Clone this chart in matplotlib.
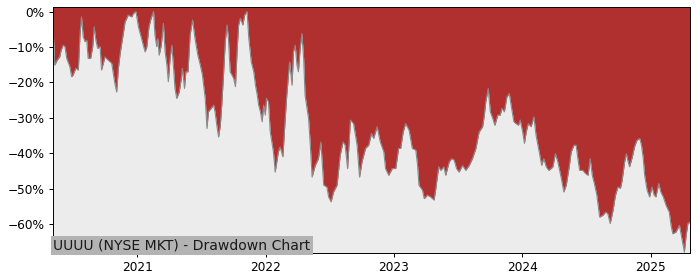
import matplotlib
matplotlib.use("Agg")
import matplotlib.pyplot as plt
import matplotlib.dates as mdates
from matplotlib.ticker import PercentFormatter
import pandas as pd

title_text = "UUUU (NYSE MKT) - Drawdown Chart"

dates = [
    "2020-05-07", "2020-05-11", "2020-05-18", "2020-05-25", "2020-05-29", "2020-06-04", "2020-06-09", "2020-06-14",
    "2020-06-23", "2020-06-28", "2020-07-02", "2020-07-10", "2020-07-17", "2020-07-22", "2020-07-26", "2020-07-31",
    "2020-08-05", "2020-08-10", "2020-08-14", "2020-08-21", "2020-08-27", "2020-08-31", "2020-09-05", "2020-09-10",
    "2020-09-17", "2020-09-21", "2020-10-01", "2020-10-10", "2020-10-20", "2020-10-29", "2020-11-03", "2020-11-08",
    "2020-11-13", "2020-11-22", "2020-11-27", "2020-12-06", "2020-12-16", "2020-12-21", "2020-12-28", "2021-01-04",
    "2021-01-14", "2021-01-23", "2021-01-28", "2021-02-03", "2021-02-09", "2021-02-16", "2021-02-20", "2021-02-25",
    "2021-02-28", "2021-03-04", "2021-03-10", "2021-03-16", "2021-03-21", "2021-03-26", "2021-03-30", "2021-04-04",
    "2021-04-09", "2021-04-14", "2021-04-18", "2021-04-23", "2021-04-30", "2021-05-06", "2021-05-09", "2021-05-15",
    "2021-05-19", "2021-05-25", "2021-05-31", "2021-06-07", "2021-06-14", "2021-06-22", "2021-06-29", "2021-07-05",
    "2021-07-13", "2021-07-18", "2021-07-22", "2021-07-30", "2021-08-06", "2021-08-10", "2021-08-15", "2021-08-20",
    "2021-08-25", "2021-08-29", "2021-09-03", "2021-09-08", "2021-09-13", "2021-09-17", "2021-09-22", "2021-09-27",
    "2021-10-02", "2021-10-07", "2021-10-12", "2021-10-16", "2021-10-21", "2021-10-28", "2021-11-02", "2021-11-09",
    "2021-11-14", "2021-11-21", "2021-11-28", "2021-12-03", "2021-12-08", "2021-12-12", "2021-12-17", "2021-12-22",
    "2021-12-26", "2021-12-31", "2022-01-03", "2022-01-09", "2022-01-14", "2022-01-23", "2022-01-28", "2022-02-06",
    "2022-02-11", "2022-02-19", "2022-02-25", "2022-03-02", "2022-03-10", "2022-03-17", "2022-03-21", "2022-03-26",
    "2022-03-31", "2022-04-04", "2022-04-09", "2022-04-14", "2022-04-19", "2022-04-23", "2022-05-03", "2022-05-08",
    "2022-05-13", "2022-05-22", "2022-05-31", "2022-06-07", "2022-06-15", "2022-06-24", "2022-06-29", "2022-07-06",
    "2022-07-13", "2022-07-23", "2022-08-01", "2022-08-09", "2022-08-15", "2022-08-22", "2022-08-30", "2022-09-08",
    "2022-09-18", "2022-09-25", "2022-10-02", "2022-10-12", "2022-10-21", "2022-10-29", "2022-11-04", "2022-11-14",
    "2022-11-23", "2022-12-03", "2022-12-08", "2022-12-17", "2022-12-27", "2023-01-06", "2023-01-14", "2023-01-20",
    "2023-01-27", "2023-02-03", "2023-02-13", "2023-02-22", "2023-03-04", "2023-03-09", "2023-03-13", "2023-03-23",
    "2023-03-28", "2023-04-06", "2023-04-15", "2023-04-25", "2023-04-30", "2023-05-08", "2023-05-14", "2023-05-23",
    "2023-05-28", "2023-06-07", "2023-06-14", "2023-06-21", "2023-06-28", "2023-07-05", "2023-07-15", "2023-07-24",
    "2023-08-03", "2023-08-12", "2023-08-22", "2023-08-31", "2023-09-10", "2023-09-15", "2023-09-19", "2023-09-26",
    "2023-10-02", "2023-10-09", "2023-10-15", "2023-10-23", "2023-10-30", "2023-11-04", "2023-11-11", "2023-11-18",
    "2023-11-25", "2023-11-30", "2023-12-08", "2023-12-14", "2023-12-21", "2023-12-26", "2024-01-02", "2024-01-07",
    "2024-01-12", "2024-01-18", "2024-01-26", "2024-02-03", "2024-02-09", "2024-02-19", "2024-02-25", "2024-03-02",
    "2024-03-09", "2024-03-16", "2024-03-23", "2024-03-28", "2024-04-04", "2024-04-11", "2024-04-21", "2024-04-28",
    "2024-05-05", "2024-05-14", "2024-05-19", "2024-05-27", "2024-06-02", "2024-06-07", "2024-06-12", "2024-06-21",
    "2024-06-29", "2024-07-06", "2024-07-12", "2024-07-18", "2024-07-25", "2024-07-31", "2024-08-08", "2024-08-17",
    "2024-08-25", "2024-08-31", "2024-09-07", "2024-09-15", "2024-09-22", "2024-09-29", "2024-10-06", "2024-10-11",
    "2024-10-18", "2024-10-23", "2024-10-28", "2024-11-01", "2024-11-09", "2024-11-15", "2024-11-22", "2024-11-30",
    "2024-12-05", "2024-12-10", "2024-12-14", "2024-12-21", "2024-12-28", "2025-01-04", "2025-01-10", "2025-01-15",
    "2025-01-23", "2025-01-29", "2025-02-05", "2025-02-13", "2025-02-22", "2025-02-27", "2025-03-04", "2025-03-13",
    "2025-03-23", "2025-03-30", "2025-04-06", "2025-04-11", "2025-04-16", "2025-04-22",
]

drawdown_pct = [
    -6.2, -15.1, -13.7, -12.8, -10.9, -9.5, -9.9, -13.2,
    -15.6, -18.4, -17.9, -16.0, -16.5, -6.2, -1.5, -7.1,
    -8.5, -8.1, -13.2, -13.2, -9.9, -4.3, -8.1, -10.4,
    -9.9, -16.5, -12.8, -13.7, -14.6, -20.3, -22.7, -16.0,
    -11.8, -6.2, -2.9, -1.0, -1.5, -0.5, 0.0, -4.3,
    -8.1, -11.4, -9.9, -4.3, -1.9, 0.0, -6.6, -9.9,
    -7.6, -12.3, -9.5, -3.3, -11.4, -15.1, -19.8, -13.2,
    -9.5, -16.0, -21.7, -24.5, -22.7, -18.9, -16.0, -21.7,
    -17.0, -17.0, -6.6, -2.4, -7.6, -12.3, -15.1, -17.9,
    -24.5, -33.0, -28.3, -27.3, -26.4, -28.3, -32.1, -35.4,
    -32.1, -26.4, -17.9, -8.5, -3.8, -7.6, -17.0, -17.9,
    -18.9, -21.2, -10.4, -3.8, -1.9, -3.8, -1.0, 0.0,
    -7.6, -14.2, -17.0, -20.8, -23.6, -26.4, -28.3, -31.1,
    -26.4, -29.2, -24.5, -25.5, -34.0, -39.6, -45.3, -39.6,
    -38.2, -41.0, -31.1, -23.6, -14.2, -20.8, -11.4, -9.5,
    -15.1, -17.0, -10.4, -6.2, -13.2, -23.6, -30.2, -37.7,
    -46.7, -43.4, -41.5, -36.8, -49.0, -49.5, -52.3, -53.7,
    -50.9, -49.0, -40.5, -36.8, -37.7, -44.3, -30.6, -31.6,
    -37.7, -46.7, -42.4, -38.6, -37.7, -34.4, -35.8, -32.5,
    -36.8, -39.6, -44.3, -46.2, -44.3, -44.3, -38.6, -38.6,
    -34.0, -31.6, -33.5, -38.6, -39.1, -43.4, -49.0, -50.4,
    -52.8, -51.8, -52.3, -53.2, -49.9, -43.8, -44.8, -43.8,
    -46.2, -42.4, -41.5, -41.9, -44.3, -45.3, -43.4, -44.8,
    -43.4, -41.5, -38.6, -34.0, -32.5, -29.2, -25.5, -21.7,
    -28.3, -30.2, -32.1, -29.2, -29.2, -27.3, -28.3, -24.1,
    -23.1, -26.4, -31.1, -31.6, -32.1, -30.6, -34.0, -37.2,
    -34.0, -31.6, -32.5, -29.7, -34.9, -40.1, -43.4, -41.5,
    -43.8, -44.8, -44.3, -43.8, -40.1, -42.4, -47.1, -50.9,
    -49.0, -43.4, -39.6, -37.7, -37.7, -41.5, -44.8, -44.8,
    -45.7, -46.2, -41.5, -46.2, -49.0, -51.8, -58.0, -57.5,
    -56.6, -57.0, -59.8, -56.1, -51.8, -49.5, -49.9, -47.6,
    -42.4, -40.1, -42.4, -43.8, -41.0, -38.2, -36.3, -35.8,
    -37.7, -41.5, -46.2, -50.4, -52.3, -49.5, -51.8, -52.3,
    -48.5, -50.9, -52.3, -54.7, -56.6, -60.3, -62.7, -62.2,
    -60.3, -64.1, -67.9, -63.1, -59.8, -59.4,
]

y_ticks = [0, -0.1, -0.2, -0.3, -0.4, -0.5, -0.6]

x = pd.to_datetime(dates)
dd = [v / 100.0 for v in drawdown_pct]

fig = plt.figure(figsize=(8, 3.2), dpi=87.5)
ax = fig.add_axes([0.0762, 0.098, 0.9095, 0.876])

y_bottom, y_top = -0.68, 0.012
ax.set_facecolor("#ececec")
ax.fill_between(x, dd, y_top, color="#b03030", linewidth=0)
ax.plot(x, dd, color="#8a8a8a", linewidth=0.9)

ax.set_xlim(x[0], x[-1])
ax.set_ylim(y_bottom, y_top)
ax.set_yticks(y_ticks)
ax.yaxis.set_major_formatter(PercentFormatter(xmax=1, decimals=0))
ax.xaxis.set_major_locator(mdates.YearLocator())
ax.xaxis.set_major_formatter(mdates.DateFormatter("%Y"))

ax.text(0.0, 0.0, title_text, transform=ax.transAxes, ha="left", va="bottom",
        fontsize=11.5, color="#1a1a1a",
        bbox=dict(boxstyle="square,pad=0.2", facecolor="#b3b3b3", edgecolor="none"))

fig.savefig("out.png", dpi=87.5)
